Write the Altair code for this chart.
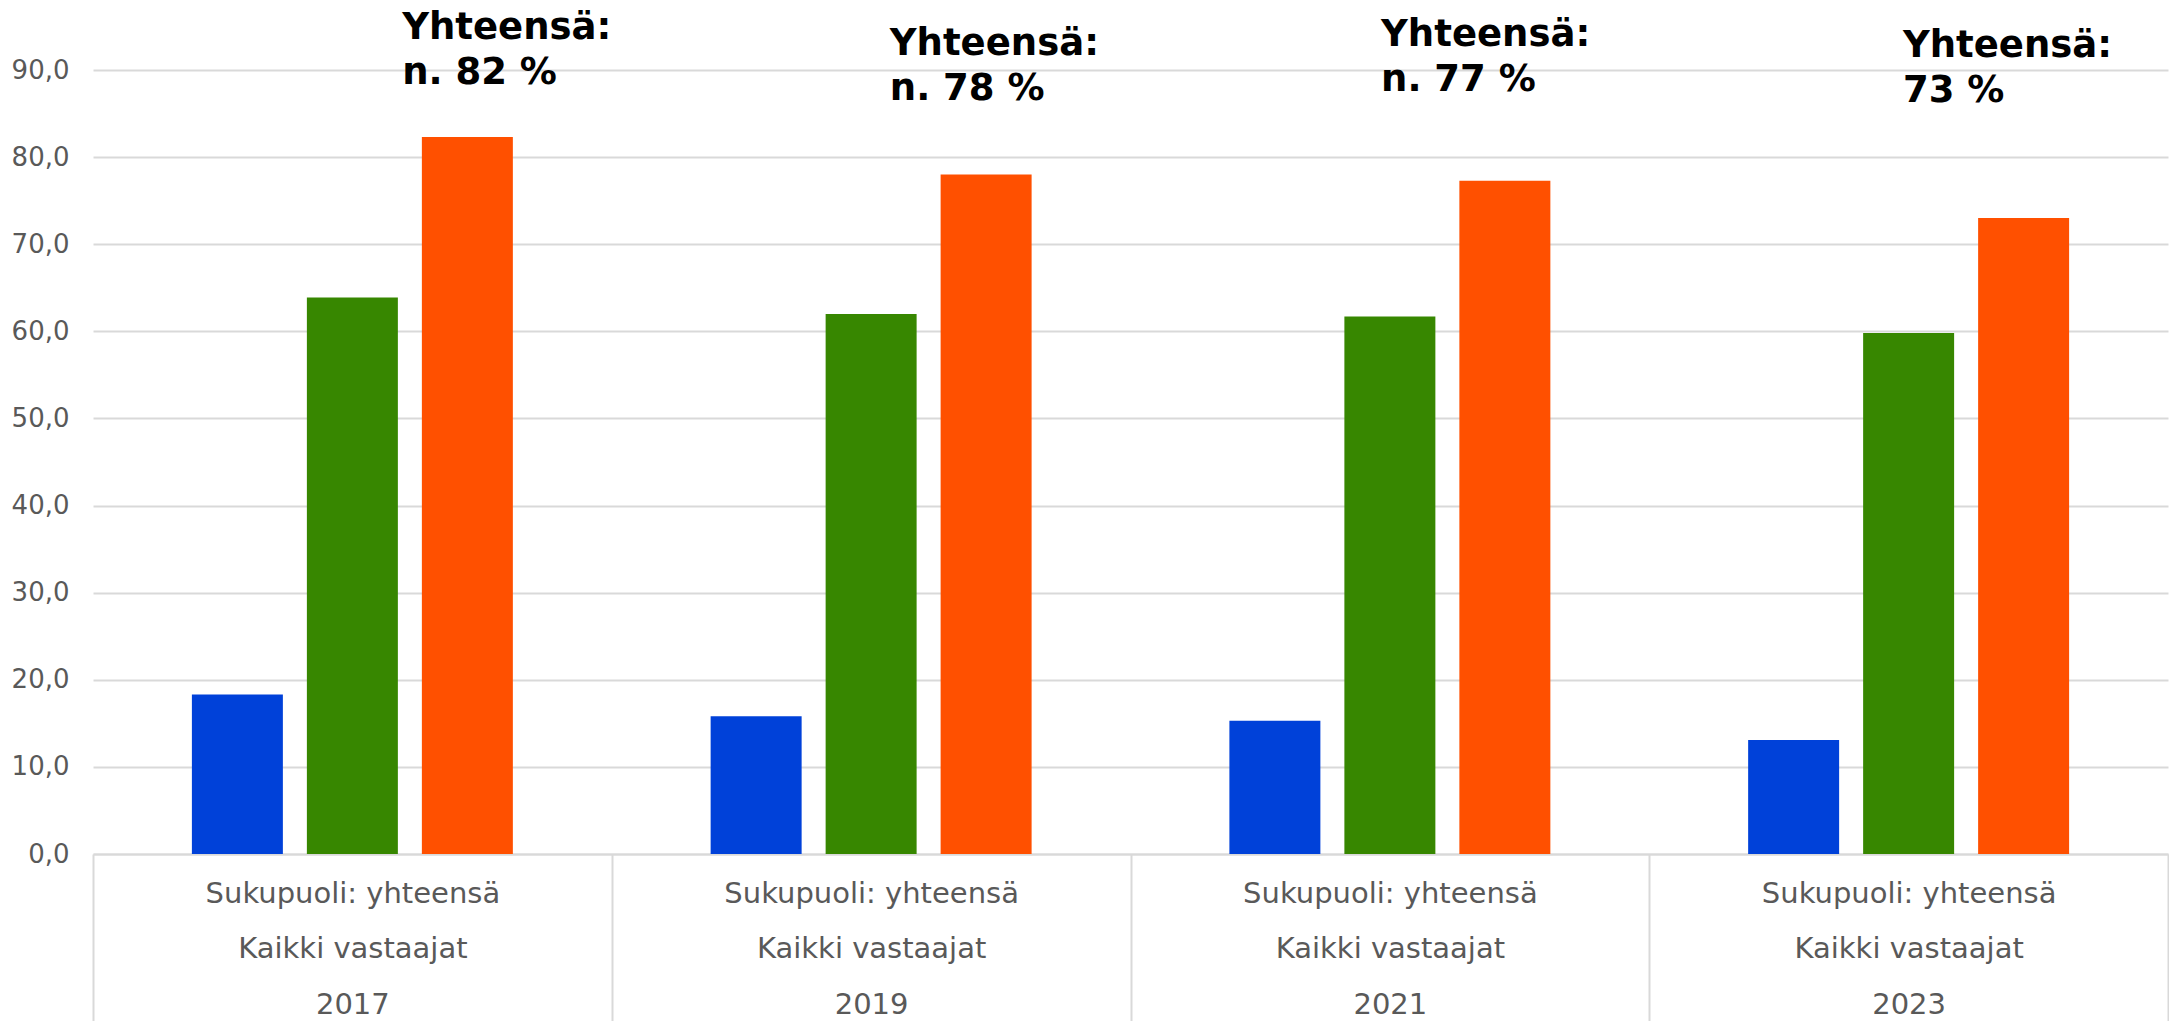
import altair as alt
import pandas as pd

years = ["2017", "2019", "2021", "2023"]
series = ["Erittäin", "Melko", "Yhteensä"]
blue_vals = [18.3, 15.8, 15.3, 13.1]
green_vals = [63.9, 62.0, 61.7, 59.8]
orange_vals = [82.3, 78.0, 77.3, 73.0]
colors = ["#0041D9", "#378700", "#FF5000"]

ann_text = ["Yhteensä:\nn. 82 %", "Yhteensä:\nn. 78 %", "Yhteensä:\nn. 77 %", "Yhteensä:\n73 %"]
ann_pos = [0.596, 1.536, 2.483, 3.489]   # position in category units
ann_y = [93.55, 91.7, 92.8, 91.5]

line1 = "Sukupuoli: yhteensä"
line2 = "Kaikki vastaajat"

rows = []
for i, y in enumerate(years):
    for s, vals in zip(series, [blue_vals, green_vals, orange_vals]):
        rows.append({"year": y, "series": s, "value": vals[i]})
df = pd.DataFrame(rows)
ann = pd.DataFrame({"text": ann_text, "pos": ann_pos, "ty": ann_y})

W = 2075
H = 846
YMAX = 97.12

yscale = alt.Scale(domain=[0, YMAX], nice=False, zero=True)

bars = alt.Chart(df).mark_bar().encode(
    x=alt.X("year:N", sort=years, title=None,
            scale=alt.Scale(paddingInner=0, paddingOuter=0),
            axis=alt.Axis(
                labelExpr=f"datum.label == '' ? '' : ['{line1}', '{line2}', datum.label]",
                labelAngle=0, labelFont="DejaVu Sans", labelFontSize=29,
                labelColor="#595959", labelLineHeight=55.5, labelLimit=0,
                labelBaseline="top", labelPadding=-142,
                tickBand="extent", tickSize=167, tickColor="#D9D9D9", tickWidth=2,
                domainColor="#D9D9D9", domainWidth=2,
                labelOverlap=False, labelFlush=False, labelBound=False, grid=False)),
    xOffset=alt.XOffset("series:N", sort=series,
                        scale=alt.Scale(paddingInner=0.2087, paddingOuter=0.86)),
    y=alt.Y("value:Q", scale=yscale, title=None,
            axis=alt.Axis(values=[0, 10, 20, 30, 40, 50, 60, 70, 80, 90],
                          labelExpr="replace(format(datum.value, '.1f'), '.', ',')",
                          labelFont="DejaVu Sans", labelFontSize=26, labelColor="#595959",
                          labelPadding=24, ticks=False, tickSize=0, domain=False,
                          grid=True, gridColor="#D9D9D9", gridWidth=2,
                          minExtent=85, maxExtent=85)),
    color=alt.Color("series:N", sort=series,
                    scale=alt.Scale(domain=series, range=colors), legend=None),
)

texts = alt.Chart(ann).mark_text(
    align="left", baseline="alphabetic", font="DejaVu Sans", fontSize=37,
    fontWeight="bold", color="#000000", lineBreak="\n", lineHeight=45
).encode(
    x=alt.X("pos:Q", scale=alt.Scale(domain=[0, 4], nice=False, zero=False), axis=None),
    y=alt.Y("ty:Q", scale=yscale, title=None),
    text="text:N",
)

chart = alt.layer(bars, texts).resolve_scale(x="independent").properties(
    width=W, height=H,
    padding={"left": 0, "top": 0, "right": 0, "bottom": 0},
    background="white",
).configure_view(stroke=None)

chart.save("out.html", embed_options={"renderer": "svg", "actions": False})
